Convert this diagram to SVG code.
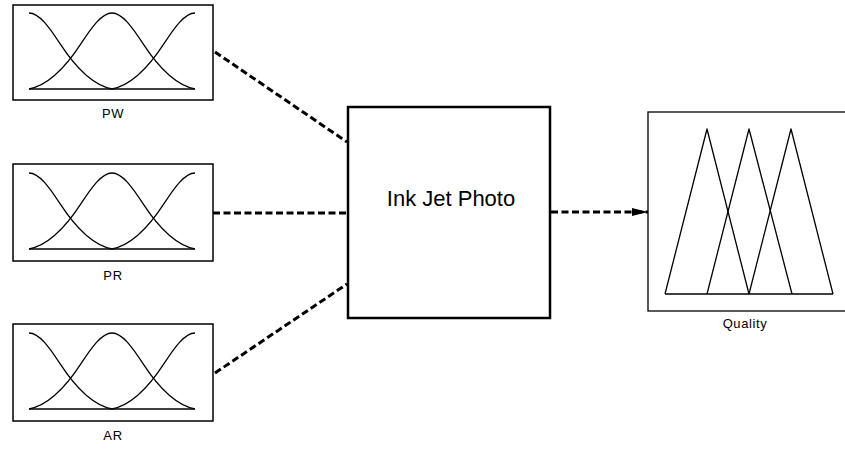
<svg xmlns="http://www.w3.org/2000/svg" xmlns:xlink="http://www.w3.org/1999/xlink" width="845" height="450" viewBox="0 0 845 450">
  <style>
    .box { fill: #fff; stroke: #000; stroke-width: 1.5; }
    .core { fill: #fff; stroke: #000; stroke-width: 2.5; }
    .mf { fill: none; stroke: #000; stroke-width: 1.3; stroke-linejoin: round; }
    .base { fill: none; stroke: #000; stroke-width: 1.6; }
    .lbl { font-family: "Liberation Sans", Arial, sans-serif; font-size: 13px; letter-spacing: 0.6px; fill: #000; text-anchor: middle; }
    .title { font-family: "Liberation Sans", Arial, sans-serif; font-size: 22px; fill: #000; text-anchor: middle; }
    .link { fill: none; stroke: #000; stroke-width: 3; stroke-dasharray: 7 3.5; }
  </style>
  <defs>
    <marker id="head" markerUnits="userSpaceOnUse" markerWidth="16" markerHeight="8" refX="16" refY="4" orient="auto">
      <path d="M0,0 L16,4 L0,8 Z" fill="#000"/>
    </marker>
    <!-- three gaussian membership functions -->
    <g id="gauss">
      <path class="mf" d="M29,13 C39.33,13 49.67,27.9 60,43.7 C77.33,70.3 94.67,85.7 112,89"/>
      <path class="mf" d="M29,89 C46.33,85.7 63.67,70.3 81,43.7 C91.33,27.9 101.67,13 112,13 C122.33,13 132.67,27.9 143,43.7 C160.33,70.3 177.67,85.7 195,89"/>
      <path class="mf" d="M195,13 C184.67,13 174.33,27.9 164,43.7 C146.67,70.3 129.33,85.7 112,89"/>
      <path class="base" d="M29,89 H195"/>
    </g>
  </defs>

  <rect width="845" height="450" fill="#fff"/>

  <g id="connectors">
    <line class="link" x1="215" y1="52" x2="347" y2="142"/>
    <line class="link" x1="213" y1="213" x2="348" y2="213"/>
    <line class="link" x1="215" y1="373" x2="347" y2="284"/>
    <line class="link" x1="551" y1="212" x2="648" y2="212" marker-end="url(#head)"/>
  </g>

  <g id="pw">
    <rect class="box" x="13" y="5" width="200" height="95"/>
    <use xlink:href="#gauss"/>
    <text class="lbl" x="113" y="118">PW</text>
  </g>

  <g id="pr">
    <rect class="box" x="13" y="164" width="200" height="97"/>
    <use xlink:href="#gauss" transform="translate(0,160)"/>
    <text class="lbl" x="113" y="280">PR</text>
  </g>

  <g id="ar">
    <rect class="box" x="13" y="324" width="200" height="97"/>
    <use xlink:href="#gauss" transform="translate(0,320)"/>
    <text class="lbl" x="113" y="440">AR</text>
  </g>

  <g id="inkjet">
    <rect class="core" x="348" y="107" width="202" height="211"/>
    <text class="title" x="451" y="206">Ink Jet Photo</text>
  </g>

  <g id="quality">
    <rect class="box" x="648" y="112" width="200" height="199" style="stroke-width:1.3"/>
    <polyline class="mf" points="665,294 707,129 749,294"/>
    <polyline class="mf" points="707,294 749,129 792,294"/>
    <polyline class="mf" points="749,294 791,129 833,294"/>
    <path class="base" d="M665,294 H833" style="stroke-width:1.3"/>
    <text class="lbl" x="745" y="328">Quality</text>
  </g>
</svg>
